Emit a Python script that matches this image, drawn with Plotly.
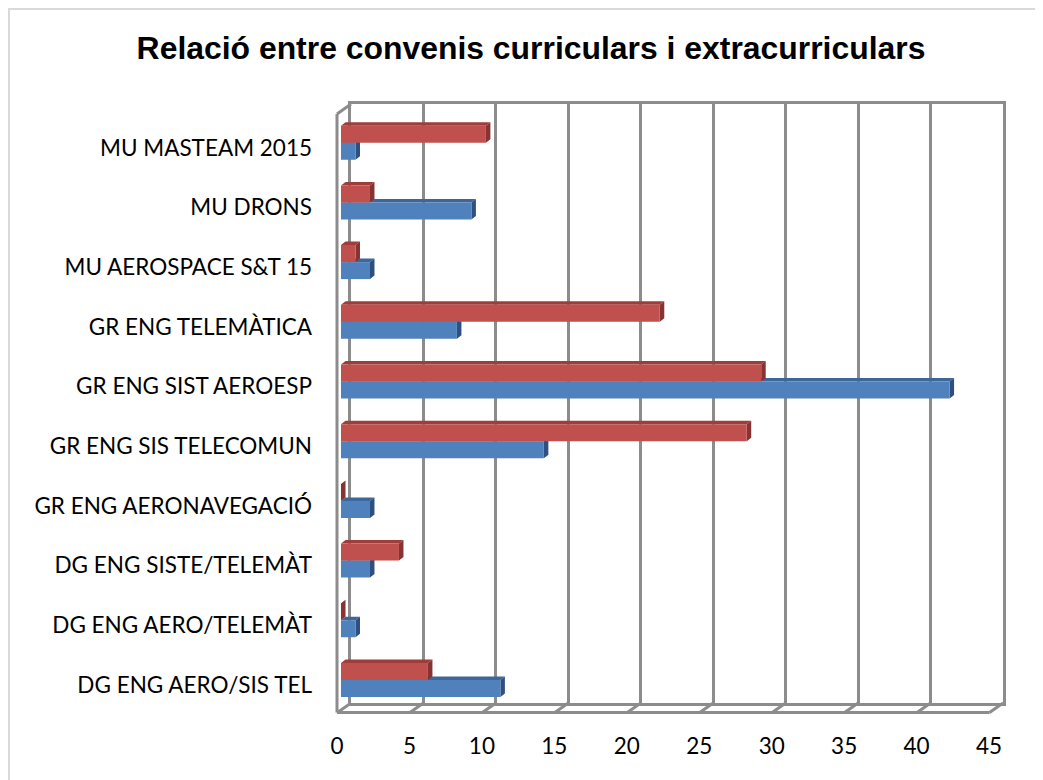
import plotly.graph_objects as go

# ---------------- data ----------------
categories = [
    "DG ENG AERO/SIS TEL",
    "DG ENG AERO/TELEMÀT",
    "DG ENG SISTE/TELEMÀT",
    "GR ENG AERONAVEGACIÓ",
    "GR ENG SIS TELECOMUN",
    "GR ENG SIST AEROESP",
    "GR ENG TELEMÀTICA",
    "MU AEROSPACE S&T 15",
    "MU DRONS",
    "MU MASTEAM 2015",
]
curriculars = [11, 1, 2, 2, 14, 42, 8, 2, 9, 1]          # blue series
extracurriculars = [6, 0, 4, 0, 28, 29, 22, 1, 2, 10]     # red series
x_ticks = [0, 5, 10, 15, 20, 25, 30, 35, 40, 45]
title_text = "Relació entre convenis curriculars i extracurriculars"

# ---------------- geometry / style ----------------
PAGE_OFF = 8                     # default body margin of the html page
W, H = 1043 - PAGE_OFF, 780 - PAGE_OFF
def X(px): return (px - PAGE_OFF) / W
def Y(py): return 1 - (py - PAGE_OFF) / H

BLUE, BLUE_TOP, BLUE_SIDE = "#4F81BD", "#3E6799", "#2E5080"
RED, RED_TOP, RED_SIDE = "#C0504D", "#9E3E3B", "#873331"
GRID = "#8c8c8c"
LABEL_FONT = dict(family="Lato, 'Open Sans', sans-serif", size=22.5, color="#000000")

bar_w = 0.285          # bar thickness in category units
dx = 4.5 / 14.49       # depth offset (x, data units)
dy = 3.5 / 59.7        # depth offset (y, category units)

fig = go.Figure()

# invisible trace so the back-wall subplot is drawn
fig.add_trace(go.Scatter(x=[0, 45], y=[0, 1], mode="markers", marker=dict(opacity=0),
                         hoverinfo="skip", showlegend=False, xaxis="x", yaxis="y"))

# 3D faces (drawn on a subplot beneath the bars)
def faces(values, lower):
    sx, sy, tx, ty = [], [], [], []
    for i, v in enumerate(values):
        y0 = i - bar_w if lower else i
        y1 = y0 + bar_w
        sx += [v, v + dx, v + dx, v, v, None]
        sy += [y0, y0 + dy, y1 + dy, y1, y0, None]
        tx += [0, dx, v + dx, v, 0, None]
        ty += [y1, y1 + dy, y1 + dy, y1, y1, None]
    return sx, sy, tx, ty

for vals, lower, top_c, side_c in [(curriculars, True, BLUE_TOP, BLUE_SIDE),
                                   (extracurriculars, False, RED_TOP, RED_SIDE)]:
    sx, sy, tx, ty = faces(vals, lower)
    fig.add_trace(go.Scatter(x=tx, y=ty, mode="lines", fill="toself", fillcolor=top_c,
                             line=dict(width=0, color=top_c), hoverinfo="skip",
                             showlegend=False, xaxis="x2", yaxis="y2"))
    fig.add_trace(go.Scatter(x=sx, y=sy, mode="lines", fill="toself", fillcolor=side_c,
                             line=dict(width=0, color=side_c), hoverinfo="skip",
                             showlegend=False, xaxis="x2", yaxis="y2"))

idx = list(range(len(categories)))
fig.add_trace(go.Bar(x=curriculars, y=idx, orientation="h", width=bar_w, offset=-bar_w,
                     marker=dict(color=BLUE, line=dict(width=0)), name="Curriculars",
                     hovertext=categories, showlegend=False, xaxis="x3", yaxis="y3"))
fig.add_trace(go.Bar(x=extracurriculars, y=idx, orientation="h", width=bar_w, offset=0,
                     marker=dict(color=RED, line=dict(width=0)), name="Extracurriculars",
                     hovertext=categories, showlegend=False, xaxis="x3", yaxis="y3"))

# back wall grid axes (first subplot, bottom-most)
back_x = [X(351), X(1003)]
back_y = [Y(703), Y(104)]
front_bar_x = [X(341), X(341 + 45 * 14.49)]
front_bar_y = [Y(709.85), Y(112.85)]

fig.update_layout(
    width=W, height=H, autosize=False,
    margin=dict(l=0, r=0, t=0, b=0),
    paper_bgcolor="white", plot_bgcolor="rgba(0,0,0,0)",
    barmode="overlay",
    title=dict(text=f"<b>{title_text}</b>", x=X(531), xanchor="center",
               y=Y(48), yanchor="middle",
               font=dict(family="Liberation Sans, Arial, sans-serif", size=31.9, color="#000")),
    xaxis=dict(domain=back_x, range=[0, 45], tickvals=x_ticks, showgrid=True,
               gridcolor=GRID, gridwidth=3, showticklabels=False, ticks="",
               showline=True, mirror=True, linecolor=GRID, linewidth=3, zeroline=False,
               fixedrange=True),
    yaxis=dict(domain=back_y, range=[0, 1], showgrid=False, showticklabels=False,
               showline=True, mirror=True, linecolor=GRID, linewidth=3, zeroline=False,
               fixedrange=True),
    xaxis2=dict(domain=front_bar_x, range=[0, 45], anchor="y2",
                visible=False, fixedrange=True),
    yaxis2=dict(domain=front_bar_y, range=[-0.5, 9.5], anchor="x2",
                visible=False, fixedrange=True),
    xaxis3=dict(domain=front_bar_x, range=[0, 45], anchor="y3",
                tickvals=x_ticks, showgrid=False, zeroline=False, showline=False,
                ticks="", tickfont=LABEL_FONT, ticklabelstandoff=21,
                ticklabelshift=-4, automargin=False, fixedrange=True),
    yaxis3=dict(domain=front_bar_y, range=[-0.5, 9.5], anchor="x3",
                tickvals=idx, ticktext=categories, showgrid=False, zeroline=False,
                showline=False, ticks="", tickfont=LABEL_FONT, ticklabelstandoff=28,
                ticklabelshift=5, automargin=False, fixedrange=True),
)

# left wall and floor outline (frame decoration)
shapes = []
line = dict(color=GRID, width=3)
def seg(x0, y0, x1, y1):
    shapes.append(dict(type="line", xref="paper", yref="paper",
                       x0=X(x0), y0=Y(y0), x1=X(x1), y1=Y(y1), line=line))
seg(337, 114, 337, 712.5)          # front-left vertical
seg(337, 114, 351, 104)            # top-left diagonal
seg(337, 712.5, 989.6, 712.5)      # floor front edge
for t in x_ticks:
    fx = 337.5 + t * 14.49
    bx = 351 + t * 14.49
    seg(fx, 712.5, bx, 703)        # floor depth ticks
# outer chart border
shapes.append(dict(type="rect", xref="paper", yref="paper", x0=X(9), y0=Y(9),
                   x1=X(1100), y1=Y(800), line=dict(color="#d9d9d9", width=2),
                   layer="below"))
fig.update_layout(shapes=shapes)

fig.write_html("out.html")
